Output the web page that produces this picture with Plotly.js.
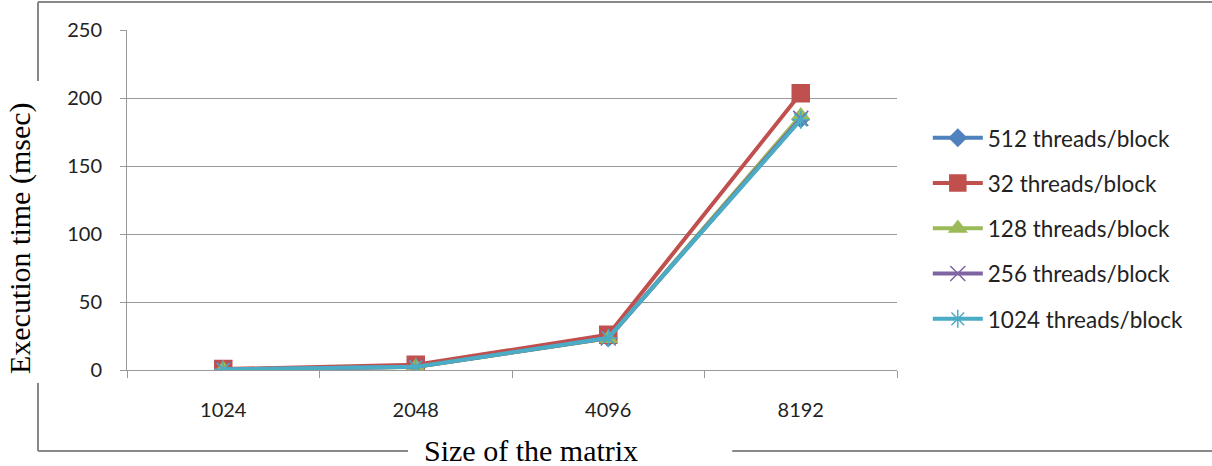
<!DOCTYPE html>
<html><head><meta charset="utf-8">
<script src="https://cdn.plot.ly/plotly-3.0.1.min.js"></script>
<style>body{margin:0;background:#fff}#chart{width:1212px;height:466px}</style>
</head><body><div id="chart"></div>
<script>
const categories = ["1024", "2048", "4096", "8192"];
const seriesNames = ["512 threads/block", "32 threads/block", "128 threads/block", "256 threads/block", "1024 threads/block"];
const t512  = [0.5, 2.3, 23.6, 184.5];
const t32   = [0.7, 3.8, 25.9, 203.5];
const t128  = [0.5, 2.2, 23.2, 187.0];
const t256  = [0.5, 2.3, 23.5, 185.0];
const t1024 = [0.5, 2.3, 23.6, 184.0];
const yTicks = [0, 50, 100, 150, 200, 250];
const xTitle = "Size of the matrix";
const yTitle = "Execution time (msec)";

const colors = ["#4F81BD", "#C0504D", "#9BBB59", "#8064A2", "#4BACC6"];
const symbols = ["diamond", "square", "triangle-up", "x-thin-open", "asterisk-open"];
const sizes = [13, 17, 15, 15, 15];
const data = [t512, t32, t128, t256, t1024];

const traces = data.map((ys, i) => ({
  x: categories, y: ys, type: "scatter", mode: "lines+markers",
  name: seriesNames[i], legendgroup: "g" + i,
  line: {color: colors[i], width: 4},
  marker: {symbol: symbols[i], size: sizes[i], color: colors[i], line: {color: colors[i], width: 1.5}}
}));

const frame = "#888888";
const serif = "'Liberation Serif', 'Times New Roman', serif";
const layout = {
  width: 1212, height: 466,
  margin: {l: 127, r: 315, t: 30, b: 96},
  paper_bgcolor: "#fff", plot_bgcolor: "#fff",
  font: {family: "Lato, 'Open Sans', sans-serif", color: "#222", size: 20},
  xaxis: {
    type: "category", tickson: "boundaries", ticks: "outside", ticklen: 7, tickcolor: "#999",
    showline: true, linecolor: "#999", linewidth: 1, showgrid: false, zeroline: false,
    range: [-0.5, 3.5], ticklabelstandoff: 22,
    tickfont: {size: 20},
    title: {text: ""}
  },
  yaxis: {
    range: [0, 250], tickvals: yTicks, ticks: "outside", ticklen: 6, tickcolor: "#999",
    showline: true, linecolor: "#999", linewidth: 1, showgrid: true, gridcolor: "#999", gridwidth: 1,
    zeroline: false, ticklabelstandoff: 14, tickfont: {size: 20},
    title: {text: ""}
  },
  annotations: [
    {text: xTitle, xref: "paper", yref: "paper", x: 0.5247, y: -0.238, xanchor: "center", yanchor: "middle",
     showarrow: false, font: {family: serif, size: 30, color: "#000"}},
    {text: yTitle, xref: "paper", yref: "paper", x: -0.139, y: 0.388, xanchor: "center", yanchor: "middle",
     textangle: -90, showarrow: false, font: {family: serif, size: 30, color: "#000"}}
  ],
  legend: {
    x: 1.04, y: 0.745, xanchor: "left", yanchor: "top", itemwidth: 50,
    tracegroupgap: 13, font: {size: 22.5, color: "#222"}, bgcolor: "rgba(0,0,0,0)"
  },
  showlegend: true,
  shapes: [
    {type: "line", xref: "paper", yref: "paper", x0: -0.1156, x1: 0.365, y0: -0.2382, y1: -0.2382, line: {color: frame, width: 2}},
    {type: "line", xref: "paper", yref: "paper", x0: 0.786, x1: 1.41, y0: -0.2382, y1: -0.2382, line: {color: frame, width: 2}},
    {type: "line", xref: "paper", yref: "paper", x0: -0.1156, x1: -0.1156, y0: -0.2382, y1: -0.038, line: {color: frame, width: 2}},
    {type: "line", xref: "paper", yref: "paper", x0: -0.1156, x1: -0.1156, y0: 0.85, y1: 1.082, line: {color: frame, width: 2}},
    {type: "line", xref: "paper", yref: "paper", x0: -0.1156, x1: 1.41, y0: 1.082, y1: 1.082, line: {color: frame, width: 2}}
  ]
};
Plotly.newPlot("chart", traces, layout, {displayModeBar: false, staticPlot: true});
</script></body></html>
